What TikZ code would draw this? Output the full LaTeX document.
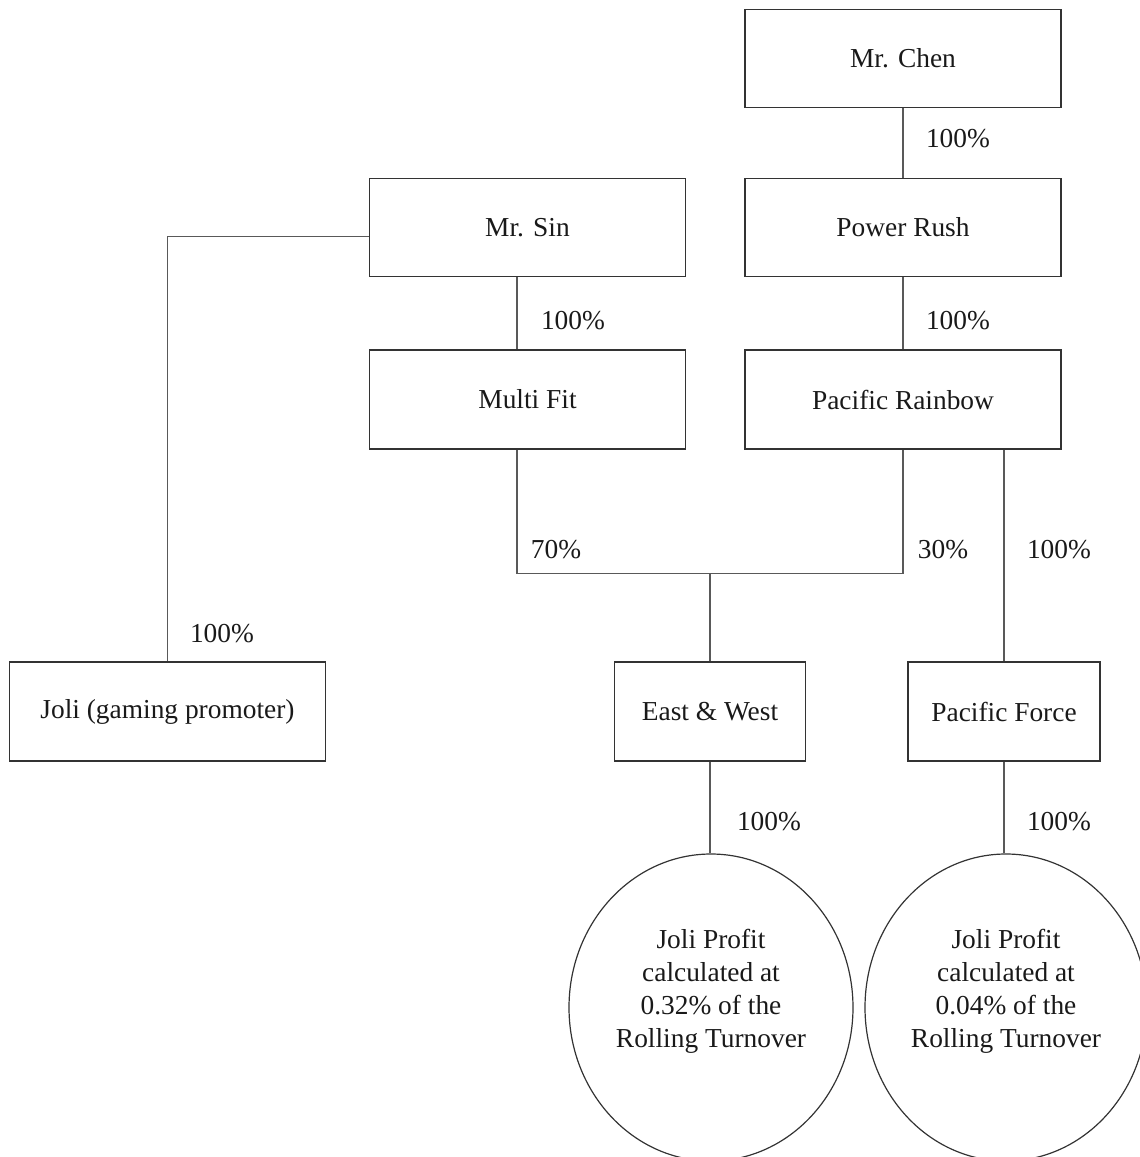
\documentclass[tikz,border=0pt]{standalone}
\usepackage{fontspec}
\setmainfont{Liberation Serif}
\usetikzlibrary{shapes.geometric,calc}
\begin{document}
\begin{tikzpicture}[x=0.5pt,y=-0.5pt,
  every node/.style={font=\fontsize{13.7}{16.5}\selectfont, text=black!90},
  entity/.style={draw=black!80, line width=0.6pt, inner sep=0pt, rectangle},
  wide/.style={entity, minimum width=158pt, minimum height=49pt},
  narrow/.style={entity, minimum width=95.5pt, minimum height=49.5pt},
  profit/.style={draw=black!80, line width=0.6pt, ellipse, inner sep=0pt, minimum width=142pt, minimum height=153.5pt},
  link/.style={draw=black!65, line width=0.6pt},
  pct/.style={inner sep=0pt}]
\useasboundingbox (0,0) rectangle (1140,1157);
\node[wide] (chen) at (903,58.5) {Mr. Chen};
\node[wide] (power) at (903,227.5) {Power Rush};
\node[wide] (sin) at (527.5,227.5) {Mr. Sin};
\node[wide, minimum height=49.5pt] (multi) at (527.5,399.5) {Multi Fit};
\node[wide, minimum height=49.5pt] (rainbow) at (903,399.5) {Pacific Rainbow};
\node[wide, minimum height=49.5pt] (joli) at (167.5,711.5) {Joli (gaming promoter)};
\node[narrow] (ew) at (710,711.5) {East \& West};
\node[narrow, minimum width=96pt] (pf) at (1004,711.5) {Pacific Force};
\node[profit] (c1) at (711,1007.5) {};
\node[profit, minimum width=141pt] (c2) at (1006,1007.5) {};
\node[align=center] (t1) at ([yshift=8.25pt]c1.center) {Joli Profit\\calculated at\\0.32\% of the\\Rolling Turnover};
\node[align=center] (t2) at ([yshift=8.25pt]c2.center) {Joli Profit\\calculated at\\0.04\% of the\\Rolling Turnover};
% connectors
\draw[link] (chen.south) -- (power.north);
\draw[link] (power.south) -- (rainbow.north);
\draw[link] ([xshift=-5.25pt]sin.south) -- ([xshift=-5.25pt]multi.north);
\draw[link] ([yshift=-4.5pt]sin.west) -| (joli.north);
\coordinate (jn) at ([xshift=-5.25pt]multi.south);
\coordinate (bar) at ($(jn)+(0,124)$);
\draw[link] (jn) -- (bar) -| (rainbow.south);
\draw[link] (ew.north) -- (ew.north |- bar);
\draw[link] (rainbow.south -| pf.north) -- (pf.north);
\draw[link] (ew.south) -- (ew.south |- c1.north);
\draw[link] (pf.south) -- (pf.south |- c2.north);
% percentages
\node[pct] (p1) at (958,139) {100\%};
\node[pct] (p2) at (573,321) {100\%};
\node[pct] (p3) at (958,321) {100\%};
\node[pct] (p4) at (556,550) {70\%};
\node[pct] (p5) at (943,550) {30\%};
\node[pct] (p6) at (1059,550) {100\%};
\node[pct] (p7) at (222,634) {100\%};
\node[pct] (p8) at (769,822) {100\%};
\node[pct] (p9) at (1059,822) {100\%};
\end{tikzpicture}
\end{document}
